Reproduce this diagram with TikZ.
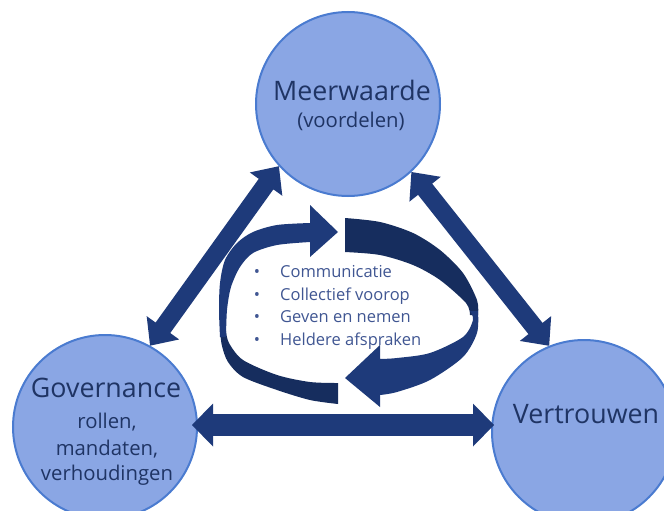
\documentclass[tikz,border=0pt]{standalone}
\usepackage{fontspec}
\setmainfont{Open Sans}
\usetikzlibrary{calc}
\definecolor{circfill}{RGB}{138,166,228}
\definecolor{circline}{RGB}{74,123,208}
\definecolor{navy}{RGB}{30,58,122}
\definecolor{navydark}{RGB}{22,45,94}
\definecolor{txt}{RGB}{31,52,100}
\definecolor{listtxt}{RGB}{64,86,146}
\newcommand\dblarrow[5]{%
  \path ($(#1)!#3!(#2)$) coordinate (da1) ($(#2)!#3!(#1)$) coordinate (da2);
  \fill[navy] (#1) -- ($(da1)!#4!90:(#2)$) -- ($(da1)!#5!90:(#2)$)
    -- ($(da2)!#5!-90:(#1)$) -- ($(da2)!#4!-90:(#1)$) -- (#2)
    -- ($(da2)!#4!90:(#1)$) -- ($(da2)!#5!90:(#1)$)
    -- ($(da1)!#5!-90:(#2)$) -- ($(da1)!#4!-90:(#2)$) -- cycle;}
\begin{document}
\begin{tikzpicture}[x=1pt,y=-1pt,
  bubble/.style={circle, draw=circline, line width=2pt, fill=circfill,
    minimum size=184pt, inner sep=0pt},
  biglbl/.style={text=txt, anchor=base, inner sep=0pt, font=\fontsize{26.8}{30}\selectfont},
  smalllbl/.style={text=txt, anchor=base, inner sep=0pt, font=\fontsize{20.3}{24}\selectfont},
  item/.style={text=listtxt, anchor=base west, inner sep=0pt, font=\fontsize{16.5}{20}\selectfont},
  bul/.style={text=listtxt, anchor=base, inner sep=0pt, font=\fontsize{16.5}{20}\selectfont}]
\useasboundingbox (0,0) rectangle (664,511);
\clip (0,0) rectangle (664,511);

% central cycle
\fill[navydark] plot[smooth] coordinates {(220,331) (222,346) (228,362) (243,377) (277,390) (310,400) (338,404)}
  -- (338,383) -- plot[smooth] coordinates {(338,383) (310,382) (277,375) (243,360) (229,343) (226,331)} -- cycle;
\fill[navy] plot[smooth] coordinates {(220,337) (219,310) (220,283) (225,260) (237,243) (253,232) (277,225) (310,223)}
  -- (310,205) -- (338,232) -- (310,257) -- (310,242)
  -- plot[smooth] coordinates {(310,242) (277,245) (253,253) (240,267) (231,287) (227,310) (226,337)} -- cycle;
\fill[navydark] (345,252) -- (345,218)
  -- plot[smooth] coordinates {(345,218) (380,222) (413,233) (440,250) (463,273) (477,300) (478,315)}
  -- plot[smooth] coordinates {(470,315) (466,303) (440,280) (413,265) (380,255) (345,252)} -- cycle;
\fill[navy] plot[smooth] coordinates {(478,311) (477,333) (463,357) (430,380) (397,392) (380,395)}
  -- (380,407) -- (345,378) -- (380,345) -- (380,359)
  -- plot[smooth] coordinates {(380,359) (397,358) (430,353) (463,337) (473,320) (470,311)} -- cycle;

% list
\node[bul] (b1) at (257,277) {•};
\node[bul] (b2) at (257,300) {•};
\node[bul] (b3) at (257,322.5) {•};
\node[bul] (b4) at (257,345) {•};
\node[item] (i1) at (280,277) {Communicatie};
\node[item] (i2) at (280,300) {Collectief voorop};
\node[item] (i3) at (280,322.5) {Geven en nemen};
\node[item] (i4) at (280,345) {Heldere afspraken};

% circles
\node[bubble] (top) at (348,104) {};
\node[bubble] (bl) at (105,427) {};
\node[bubble] (br) at (584,432) {};

% double arrows
\dblarrow{top.222}{bl.61.7}{22pt}{20pt}{9pt}
\dblarrow{top.313}{br.112}{22pt}{20pt}{9pt}
\coordinate (hl) at ($(bl.east)+(-6,-2)$);
\coordinate (hr) at ($(br.west)+(3,-7)$);
\dblarrow{hl}{hr}{21pt}{21.5pt}{10.8pt}

% labels
\node[biglbl] (m1) at (352,100) {Meerwaarde};
\node[smalllbl] (m2) at (351,127) {(voordelen)};
\node[biglbl] (g1) at (106,397) {Governance};
\node[smalllbl] (g2) at (107,428) {rollen,};
\node[smalllbl] (g3) at (107,455) {mandaten,};
\node[smalllbl] (g4) at (107,480) {verhoudingen};
\node[biglbl] (v1) at (586,423) {Vertrouwen};
\end{tikzpicture}
\end{document}
